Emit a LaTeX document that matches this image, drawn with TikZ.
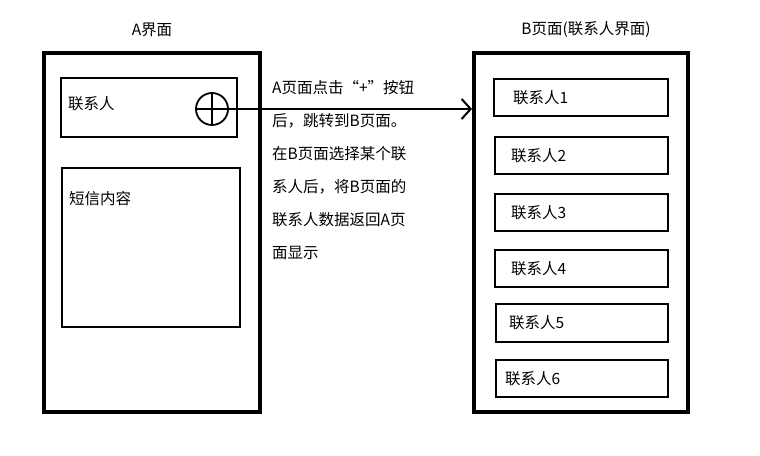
\documentclass[tikz,border=0pt]{standalone}
\usepackage{fontspec}
\setmainfont{Noto Sans CJK SC}
\usetikzlibrary{arrows.meta}
\begin{document}
\begin{tikzpicture}[x=1pt,y=-1pt,
  frame/.style={draw,line width=3.5pt},
  box/.style={draw,line width=1.8pt},
  lbl/.style={font=\fontsize{15.5}{17}\selectfont,anchor=west,inner sep=0}]
\useasboundingbox (0,0) rectangle (760,455);
\draw[frame] (44,53) rectangle (260,412);
\draw[frame] (474,53) rectangle (688,412);
\node[font=\fontsize{15.5}{17}\selectfont] (ta) at (152,30) {A界面};
\node[font=\fontsize{15.5}{17}\selectfont] (tb) at (586,30) {B页面(联系人界面)};
\draw[box] (61,78) rectangle (237,137);
\node[lbl] (c) at (68,104) {联系人};
\draw[box] (62,168) rectangle (240,327);
\node[lbl] (sms) at (69,199) {短信内容};
\node[draw,circle,line width=1.8pt,minimum size=32pt,inner sep=0] (plus) at (212,109) {};
\draw[line width=1.8pt] (plus.north) -- (plus.south) (plus.west) -- (plus.east);
\coordinate (end) at (472,109);
\draw[line width=2.2pt,-{Straight Barb[length=9pt,width=20pt,line width=2pt]}] (plus.center) -- (end);
\foreach \i/\xa/\ya/\yb/\tx in {1/494/79/116/513,2/495/137/174/511,3/495/194/231/511,4/495/250/287/511,5/496/304/342/509,6/496/360/397/505}{
  \draw[box] (\xa,\ya) rectangle (668,\yb);
  \node[lbl] (e\i) at (\tx,{(\ya+\yb)/2}) {联系人\i};
}
\node[lbl,anchor=north west,align=left,font=\fontsize{15.5}{33}\selectfont] (txt) at (272,80)
 {A页面点击“+”按钮\\后，跳转到B页面。\\在B页面选择某个联\\系人后，将B页面的\\联系人数据返回A页\\面显示};
\end{tikzpicture}
\end{document}
